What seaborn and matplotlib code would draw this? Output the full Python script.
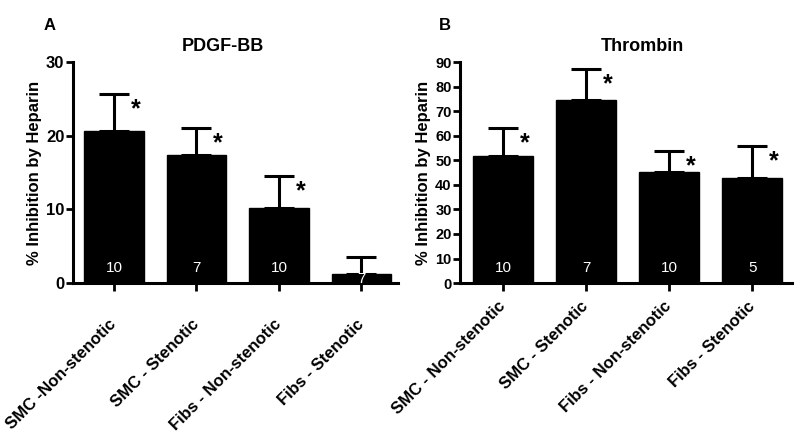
import numpy as np
import matplotlib
matplotlib.use('Agg')
import matplotlib.pyplot as plt
import seaborn as sns

# values
categories_a = ['SMC -Non-stenotic', 'SMC - Stenotic', 'Fibs - Non-stenotic', 'Fibs - Stenotic']
categories_b = ['SMC - Non-stenotic', 'SMC - Stenotic', 'Fibs - Non-stenotic', 'Fibs - Stenotic']

pdgf_mean = [20.6, 17.4, 10.2, 1.2]
pdgf_sem = [5.0, 3.6, 4.3, 2.4]
pdgf_n = [10, 7, 10, 7]
pdgf_sig = [True, True, True, False]
pdgf_yticks = [0, 10, 20, 30]

thrombin_mean = [51.7, 74.5, 45.2, 42.8]
thrombin_sem = [11.3, 12.5, 8.5, 13.0]
thrombin_n = [10, 7, 10, 5]
thrombin_sig = [True, True, True, True]
thrombin_yticks = list(range(0, 100, 10))

sns.set_style('ticks')
plt.rcParams['font.family'] = ['Liberation Sans', 'DejaVu Sans']
for key in ['text.color', 'axes.labelcolor', 'xtick.color', 'ytick.color', 'axes.edgecolor']:
    plt.rcParams[key] = 'black'


def draw_panel(ax, cats, means, sems, ns, sig, yticks, title, title_x, ytick_size, label_pad):
    sns.barplot(x=cats, y=means, color='black', saturation=1, width=0.72,
                errorbar=None, edgecolor='black', ax=ax)
    ax.errorbar(np.arange(len(means)), means, yerr=[np.zeros(len(sems)), sems],
                fmt='none', ecolor='black', elinewidth=2.2, capsize=11, capthick=2.2)
    ymax = yticks[-1]
    ax.set_ylim(0, ymax)
    ax.set_yticks(yticks)
    for i, (m, s, n, star) in enumerate(zip(means, sems, ns, sig)):
        ax.text(i, min(0.07 * ymax, m / 2), str(n), color='white', fontsize=11,
                ha='center', va='center')
        if star:
            ax.annotate('*', (i + 0.26, m + s), xytext=(0, -11), textcoords='offset points',
                        ha='center', va='center', fontsize=18, fontweight='bold')
    ax.set_title(title, fontsize=13, fontweight='bold', pad=8, x=title_x)
    ax.set_ylabel('% Inhibition by Heparin', fontsize=12, fontweight='bold', labelpad=3)
    ax.set_xlabel('')
    for sp in ['top', 'right']:
        ax.spines[sp].set_visible(False)
    for sp in ['left', 'bottom']:
        ax.spines[sp].set_linewidth(2.2)
    ax.tick_params(axis='y', length=5, width=2, labelsize=ytick_size, pad=1)
    ax.tick_params(axis='x', length=6, width=2, pad=label_pad)
    for lab in ax.get_yticklabels():
        lab.set_fontweight('bold')
    ax.set_xticks(range(len(cats)))
    ax.set_xticklabels(cats, rotation=45, ha='right', va='center', rotation_mode='anchor',
                       fontsize=12, fontweight='bold')


fig = plt.figure(figsize=(8, 4.43), dpi=100)
ax_a = fig.add_axes([0.091, 0.361, 0.407, 0.499])
ax_b = fig.add_axes([0.575, 0.361, 0.415, 0.499])

draw_panel(ax_a, categories_a, pdgf_mean, pdgf_sem, pdgf_n, pdgf_sig, pdgf_yticks,
           'PDGF-BB', 0.46, 12, 22)
ax_a.set_xlim(-0.5, 3.45)
draw_panel(ax_b, categories_b, thrombin_mean, thrombin_sem, thrombin_n, thrombin_sig,
           thrombin_yticks, 'Thrombin', 0.55, 10.5, 9)
ax_b.set_xlim(-0.52, 3.48)

fig.text(50 / 800, 1 - 25 / 443, 'A', fontsize=12, fontweight='bold', ha='center', va='center')
fig.text(445 / 800, 1 - 25 / 443, 'B', fontsize=12, fontweight='bold', ha='center', va='center')

fig.savefig('out.png', dpi=100)
